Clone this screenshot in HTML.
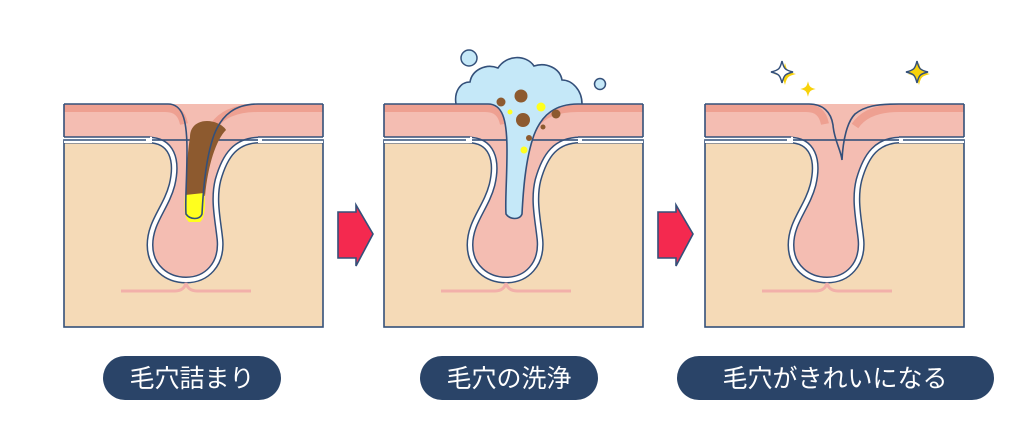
<!DOCTYPE html>
<html><head><meta charset="utf-8"><style>
html,body{margin:0;padding:0;background:#fff;}
svg{display:block}
.pill{font-family:"Liberation Sans","Noto Sans CJK JP",sans-serif;}
</style></head><body>
<svg width="1024" height="446" viewBox="0 0 1024 446" xmlns="http://www.w3.org/2000/svg">
<defs>
<path id="fol" d="M64,140 H148 C172,140 178,160 172,185 C166,208 150,222 150,245 C150,267 167,280 186,280 C207,280 222,264 220,240 C218,220 213,200 218,180 C225,155 236,140 260,140 H323"/>
<g id="base">
  <path d="M64,104 H323 V150 H240 C222,170 222,200 224,240 C226,270 205,290 186,290 C160,290 140,270 145,240 C150,215 170,200 168,150 H64 Z" fill="#f4bdb2"/>
  <path d="M64,140 H148 C172,140 178,160 172,185 C166,208 150,222 150,245 C150,267 167,280 186,280 C207,280 222,264 220,240 C218,220 213,200 218,180 C225,155 236,140 260,140 H323 V327 H64 Z" fill="#f5dab7"/>
  <use href="#fol" fill="none" stroke="#34507a" stroke-width="7"/>
  <use href="#fol" fill="none" stroke="#fff" stroke-width="4"/>
  <rect x="64" y="140" width="259" height="187" fill="none" stroke="#34507a" stroke-width="1.6"/>
  <rect x="64" y="137" width="88" height="6" fill="#fff"/>
  <rect x="258" y="137" width="65" height="6" fill="#fff"/>
  <path d="M64,137 H150 M258,137 H323 M64,140 H146 M262,140 H323" stroke="#34507a" stroke-width="1.6" fill="none"/>
  <path d="M64,108 H165 C177,108 182,114 184,124 M214,126 C222,114 236,108 258,108 H323" fill="none" stroke="#eea091" stroke-width="8"/>
  <path d="M64,104 V137 M323,137 V104" fill="none" stroke="#34507a" stroke-width="1.6"/>
  <path d="M121,291 H175 C182,291 185,287 186,283 C187,287 190,291 197,291 H251" fill="none" stroke="#f2b0aa" stroke-width="3"/>
</g>
<path id="canalline" d="M64,104 H168 C182,104 187,118 187,150 C187,180 185,200 186,214 C190,220 200,220 202,214 C203,195 205,160 214,135 C222,114 236,104 258,104 H323"/>
<path id="spark" d="M0,-11 C2,-3 3,-2 11,0 C3,2 2,3 0,11 C-2,3 -3,2 -11,0 C-3,-2 -2,-3 0,-11 Z"/>
</defs>

<g>
  <use href="#base"/>
  <path d="M190,137 C190,126 198,121 207,121 C216,121 224,126 226,130 C216,140 208,165 205,196 L186,196 C186,170 188,150 190,137 Z" fill="#8d5a2f"/>
  <path d="M185,195 L204,193 C206,205 205,218 200,222 L189,222 C184,218 184,205 185,195 Z" fill="#ffff1e"/>
  <use href="#canalline" fill="none" stroke="#34507a" stroke-width="1.6"/>
</g>

<g transform="translate(320,0)">
  <use href="#base"/>
  <path d="M136,104 C134,92 140,82 150,82 C152,70 166,63 178,68 C186,55 206,54 214,66 C226,62 240,68 242,80 C252,80 262,90 262,104 C240,104 224,112 214,135 C205,160 203,195 202,214 C200,220 190,220 186,214 C185,200 187,180 187,150 C187,118 182,104 168,104 Z" fill="#c5e8f8"/>
  <path d="M136,104 C134,92 140,82 150,82 C152,70 166,63 178,68 C186,55 206,54 214,66 C226,62 240,68 242,80 C252,80 262,90 262,104" fill="none" stroke="#34507a" stroke-width="1.6"/>
  <use href="#canalline" fill="none" stroke="#34507a" stroke-width="1.6"/>
  <circle cx="149" cy="58" r="8" fill="#c5e8f8" stroke="#34507a" stroke-width="1.5"/>
  <circle cx="280" cy="84" r="5.5" fill="#c5e8f8" stroke="#34507a" stroke-width="1.5"/>
  <circle cx="181" cy="102" r="4.5" fill="#8d5a2f"/>
  <circle cx="201" cy="96" r="6.5" fill="#8d5a2f"/>
  <circle cx="203" cy="120" r="7" fill="#8d5a2f"/>
  <circle cx="236" cy="114" r="4.5" fill="#8d5a2f"/>
  <circle cx="223" cy="127" r="2.5" fill="#8d5a2f"/>
  <circle cx="209" cy="138" r="3" fill="#8d5a2f"/>
  <circle cx="221" cy="107" r="4.5" fill="#ffff1e"/>
  <circle cx="190" cy="112" r="2.5" fill="#ffff1e"/>
  <circle cx="204" cy="150" r="3.5" fill="#ffff1e"/>
</g>

<g transform="translate(641,0)">
  <use href="#base"/>
  <path d="M64,104 H168 C182,104 190,112 192,125 C193,140 200,150 201,160 C202,140 206,122 214,114 C224,106 236,104 258,104 H323" fill="none" stroke="#34507a" stroke-width="1.6"/>
</g>

<use href="#spark" transform="translate(785,74)" fill="#f8d20a"/>
<use href="#spark" transform="translate(782,72)" fill="#fff" stroke="#34507a" stroke-width="1.5"/>
<use href="#spark" transform="translate(808,89) scale(0.7)" fill="#f8d20a"/>
<use href="#spark" transform="translate(919,74)" fill="#f8d20a"/>
<use href="#spark" transform="translate(917,72)" fill="#f8d20a" stroke="#34507a" stroke-width="1.5"/>

<g id="arr">
  <path d="M338,212 H356 V205 L373,234 L356,266 V258 H338 Z" fill="#f4294f" stroke="#34507a" stroke-width="1.6"/>
</g>
<use href="#arr" transform="translate(320,0)"/>

<g class="pill" font-size="25" fill="#fff" text-anchor="middle">
  <rect x="103" y="356" width="178" height="44" rx="22" fill="#2a4468"/>
  <text x="192" y="387">毛穴詰まり</text>
  <rect x="420" y="356" width="178" height="44" rx="22" fill="#2a4468"/>
  <text x="509" y="387">毛穴の洗浄</text>
  <rect x="677" y="356" width="317" height="44" rx="22" fill="#2a4468"/>
  <text x="835" y="387">毛穴がきれいになる</text>
</g>
</svg>
</body></html>
